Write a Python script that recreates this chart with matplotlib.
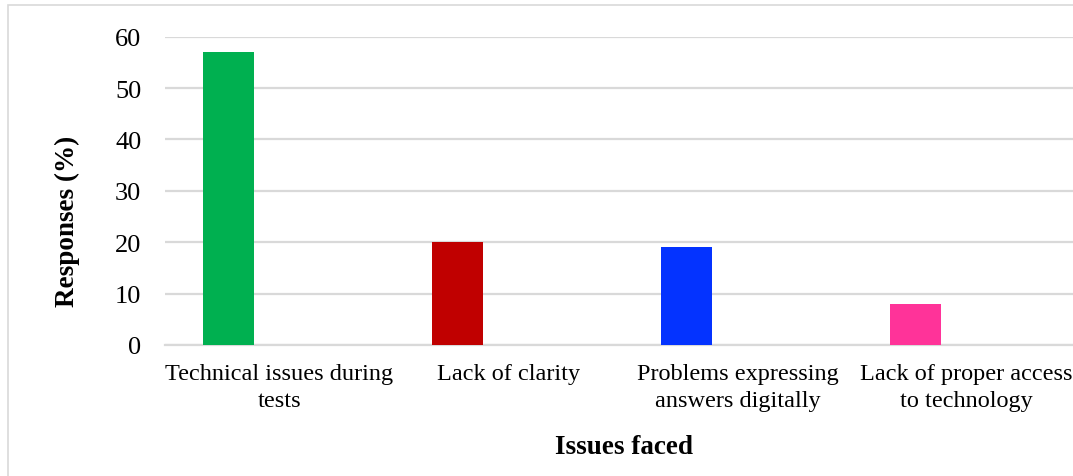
import matplotlib.pyplot as plt
from matplotlib.patches import Rectangle

categories = ["Technical issues during\ntests", "Lack of clarity",
              "Problems expressing\nanswers digitally", "Lack of proper access\nto technology"]
responses = [57, 20, 19, 8]
colors = ["#00B050", "#C00000", "#0433FF", "#FF3399"]

plt.rcParams['font.family'] = ['Liberation Serif', 'DejaVu Serif']

fig = plt.figure(figsize=(10.73, 4.77), dpi=100)
ax = fig.add_axes([165 / 1073, 1 - 346 / 477, 916 / 1073, (346 - 37.7) / 477])

# outer chart border (cut off on right and bottom like the original)
fig.patches.append(Rectangle((8 / 1073, -0.1), 1.2, 1 - 6 / 477 + 0.1,
                             transform=fig.transFigure, fill=False,
                             edgecolor="#D9D9D9", linewidth=1.2))

width = 0.223
pos = [i - width for i in range(len(categories))]
ax.bar(pos, responses, width=width, color=colors, zorder=3)

ax.set_xlim(-0.5, 3.5)
ax.set_ylim(0, 60)
ax.set_yticks(range(0, 61, 10))
ax.set_xticks(range(len(categories)))
ax.set_xticklabels(categories, fontsize=17.5, linespacing=1.35)
ax.tick_params(axis='y', labelsize=19, length=0, pad=17)
ax.tick_params(axis='x', length=0, pad=13)
ax.grid(axis='y', color="#D9D9D9", linewidth=1.6, zorder=0)
ax.set_axisbelow(True)
for side in ["top", "right", "left"]:
    ax.spines[side].set_visible(False)
ax.spines["bottom"].set_color("#D9D9D9")
ax.spines["bottom"].set_linewidth(1.6)

fig.text(67 / 1073, 1 - 221 / 477, "Responses (%)", rotation=90, fontsize=19.5,
         fontweight="bold", ha="center", va="center")
fig.text(624 / 1073, 1 - 448 / 477, "Issues faced", fontsize=19.5,
         fontweight="bold", ha="center", va="center")

fig.savefig("out.png", dpi=100)
